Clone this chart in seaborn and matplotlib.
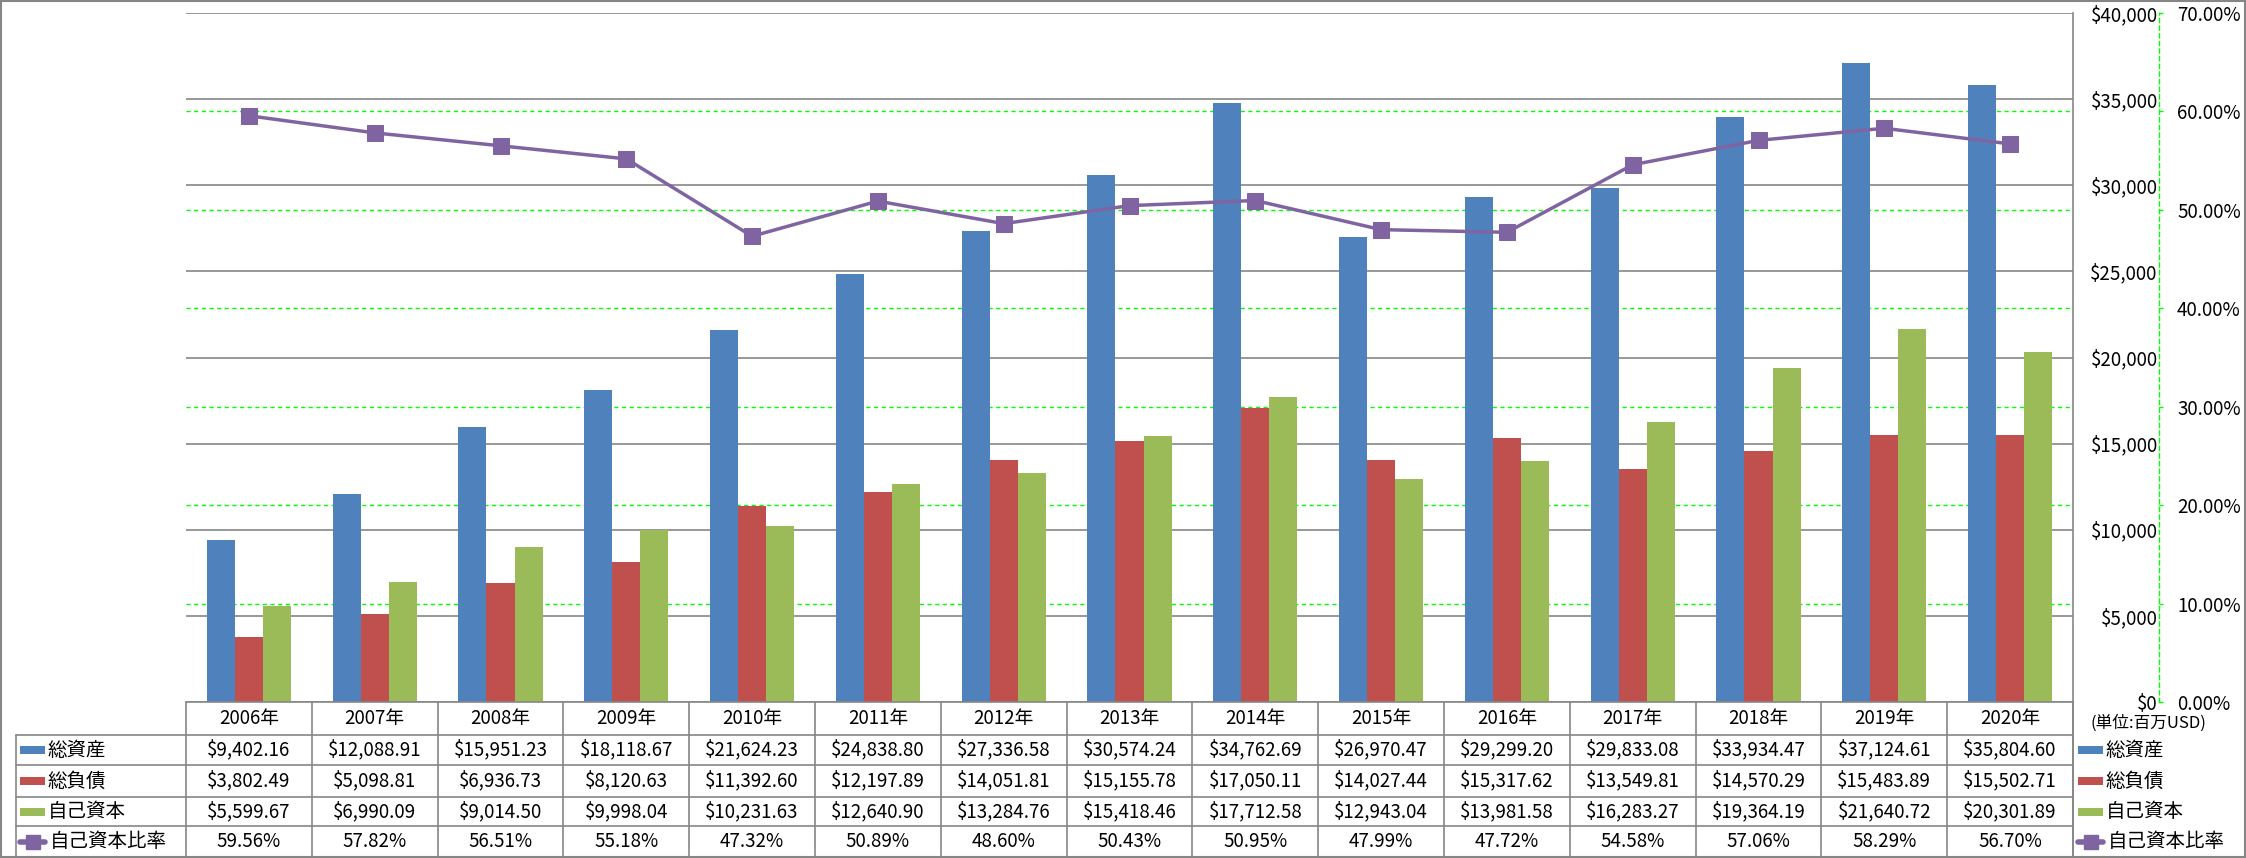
import numpy as np
import pandas as pd
import seaborn as sns
import matplotlib.pyplot as plt
from matplotlib.ticker import FuncFormatter, MultipleLocator
from matplotlib.transforms import blended_transform_factory
from matplotlib.patches import Rectangle
from matplotlib.lines import Line2D

years = ['2006年', '2007年', '2008年', '2009年', '2010年', '2011年', '2012年', '2013年',
         '2014年', '2015年', '2016年', '2017年', '2018年', '2019年', '2020年']
total_assets = [9402.16, 12088.91, 15951.23, 18118.67, 21624.23, 24838.80, 27336.58, 30574.24,
                34762.69, 26970.47, 29299.20, 29833.08, 33934.47, 37124.61, 35804.60]
total_liab = [3802.49, 5098.81, 6936.73, 8120.63, 11392.60, 12197.89, 14051.81, 15155.78,
              17050.11, 14027.44, 15317.62, 13549.81, 14570.29, 15483.89, 15502.71]
equity = [5599.67, 6990.09, 9014.50, 9998.04, 10231.63, 12640.90, 13284.76, 15418.46,
          17712.58, 12943.04, 13981.58, 16283.27, 19364.19, 21640.72, 20301.89]
equity_ratio = [59.56, 57.82, 56.51, 55.18, 47.32, 50.89, 48.60, 50.43,
                50.95, 47.99, 47.72, 54.58, 57.06, 58.29, 56.70]
bar_names = ['総資産', '総負債', '自己資本']
ratio_name = '自己資本比率'
unit_note = '(単位:百万USD)'

bar_colors = ['#4F81BD', '#C0504D', '#9BBB59']
line_color = '#8064A2'
grid_gray = '#868686'
grid_green = '#00FF00'

sns.set_theme(style='white')
plt.rcParams['font.family'] = ['Noto Sans CJK JP', 'DejaVu Sans']

W, H = 2246, 858
fig = plt.figure(figsize=(W / 100, H / 100), dpi=100)
fig.patch.set_facecolor('white')

# plot area (pixel coords converted to figure fraction)
px_l, px_r, px_t, px_b = 186, 2073, 13, 702
ax = fig.add_axes([px_l / W, 1 - px_b / H, (px_r - px_l) / W, (px_b - px_t) / H])

df = pd.DataFrame({
    'year': years * 3,
    'series': np.repeat(bar_names, len(years)),
    'value': total_assets + total_liab + equity,
})
sns.barplot(data=df, x='year', y='value', hue='series', hue_order=bar_names,
            palette=bar_colors, saturation=1, width=0.67, linewidth=0,
            legend=False, ax=ax)

ax.set_ylim(0, 40000)
ax.yaxis.set_major_locator(MultipleLocator(5000))
ax.yaxis.set_major_formatter(FuncFormatter(lambda v, p: f'${v:,.0f}'))
ax.grid(axis='y', color=grid_gray, lw=1.2)
ax.set_axisbelow(True)
ax.set_xlabel('')
ax.set_ylabel('')
for s in ['left', 'top', 'bottom']:
    ax.spines[s].set_visible(False)
ax.spines['right'].set_color(grid_gray)
ax.spines['right'].set_linewidth(1.2)

# ratio axis
ax2 = ax.twinx()
ax2.set_ylim(0, 70)
ax2.yaxis.set_major_locator(MultipleLocator(10))
ax2.yaxis.set_major_formatter(FuncFormatter(lambda v, p: f'{v:.2f}%'))
# green dashed gridlines for the ratio axis, kept behind the bars
for t in np.arange(10, 70, 10):
    ax.axhline(t / 70 * 40000, color=grid_green, lw=1, ls=(0, (3, 2.5)), zorder=0.6)

sns.lineplot(x=np.arange(len(years)), y=equity_ratio, ax=ax2, color=line_color,
             lw=2.5, marker='s', markersize=12, markeredgecolor=line_color)
for s in ['left', 'top', 'bottom']:
    ax2.spines[s].set_visible(False)
ax2.spines['right'].set_position(('outward', 86 * 0.72))
ax2.spines['right'].set_color(grid_green)
ax2.spines['right'].set_linestyle((0, (3, 2.5)))
ax2.spines['right'].set_linewidth(1)
ax2.tick_params(axis='y', right=True, direction='out', length=3, width=1, color=grid_green,
                pad=10, labelsize=13.5, labelcolor='black')
ax2.set_ylabel('')

# dollar labels sit on the right, right-aligned against the ratio spine
ax.tick_params(axis='x', length=0, labelbottom=False)
ax.tick_params(axis='y', left=False, labelleft=False, right=False, labelright=True,
               length=0, pad=61, labelsize=13.5, labelcolor='black')
plt.setp(ax.get_yticklabels(), ha='right')
ax.set_xlim(-0.5, len(years) - 0.5)

# data table + legend overlay in pixel coordinates
tab = fig.add_axes([0, 0, 1, 1], zorder=5)
tab.set_xlim(0, W)
tab.set_ylim(H, 0)
tab.axis('off')
tab.patch.set_alpha(0)
bt = blended_transform_factory(ax.transData, tab.transData)

row_y = [702, 735, 765, 797, 826, 857]
row_c = [(a + b) / 2 for a, b in zip(row_y[:-1], row_y[1:])]
lc = dict(color=grid_gray, lw=1.2)

tab.add_patch(Rectangle((1, 1), W - 2, H - 2, fill=False, ec=grid_gray, lw=1.5))
tab.plot([px_l, px_r], [row_y[0]] * 2, **lc)
for y in row_y[1:5]:
    tab.plot([16, px_r], [y, y], **lc)
tab.plot([16, 16], [row_y[1], H - 1], **lc)
tab.plot([px_r, px_r], [px_b, H - 1], **lc)
for i in range(len(years) + 1):
    tab.plot([i - 0.5, i - 0.5], [row_y[0], H - 1], transform=bt, **lc)

rows = [[f'${v:,.2f}' for v in total_assets],
        [f'${v:,.2f}' for v in total_liab],
        [f'${v:,.2f}' for v in equity],
        [f'{v:.2f}%' for v in equity_ratio]]
for i, yr in enumerate(years):
    tab.text(i, row_c[0], yr, transform=bt, ha='center', va='center', fontsize=13.5, color='black')
    for r, vals in enumerate(rows):
        tab.text(i, row_c[r + 1], vals[i], transform=bt, ha='center', va='center',
                 fontsize=13.5, color='black')


def legend_key(x0, yc, kind):
    if kind < 3:
        tab.add_patch(Rectangle((x0, yc - 4), 25, 8, color=bar_colors[kind], lw=0))
        return x0 + 28
    tab.add_line(Line2D([x0, x0 + 25], [yc, yc], color=line_color, lw=4))
    tab.plot([x0 + 12.5], [yc], marker='s', ms=10, color=line_color)
    return x0 + 30


labels = bar_names + [ratio_name]
for k, name in enumerate(labels):
    xt = legend_key(20, row_c[k + 1], k)
    tab.text(xt, row_c[k + 1], name, ha='left', va='center', fontsize=14, color='black')
    xt = legend_key(2078, row_c[k + 1], k)
    tab.text(xt, row_c[k + 1], name, ha='left', va='center', fontsize=14, color='black')

tab.text(2148, 723, unit_note, ha='center', va='center', fontsize=12, color='black')

fig.savefig('out.png', dpi=100, facecolor='white')
